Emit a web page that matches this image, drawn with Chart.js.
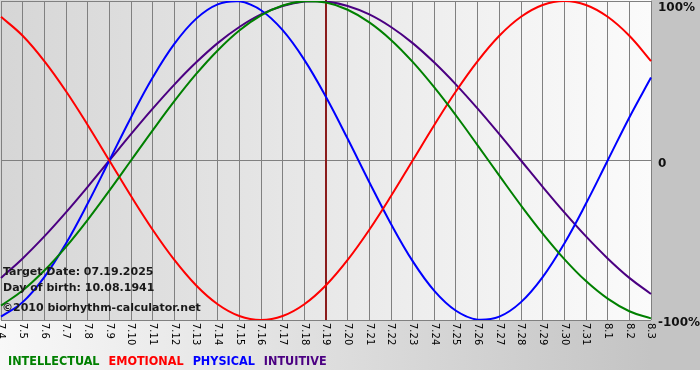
<!DOCTYPE html>
<html lang="en">
<head>
    <meta charset="UTF-8">
    <title>Biorhythm</title>
    <script src="https://cdn.jsdelivr.net/npm/chart.js"></script>
    <style>
        html, body { margin: 0; padding: 0; background: #fff; }
        canvas { display: block; }
    </style>
</head>
<body>

<canvas id="bioChart" width="700" height="380"></canvas>

<script>
    // days shown on the x axis
    const days = ['7.4', '7.5', '7.6', '7.7', '7.8', '7.9', '7.10', '7.11', '7.12', '7.13', '7.14',
        '7.15', '7.16', '7.17', '7.18', '7.19', '7.20', '7.21', '7.22', '7.23', '7.24', '7.25',
        '7.26', '7.27', '7.28', '7.29', '7.30', '7.31', '8.1', '8.2', '8.3'];

    // cycle values (-1 .. 1), one per day
    const intellectual = [-0.910, -0.815, -0.690, -0.541, -0.372, -0.189, 0, 0.189, 0.372, 0.541, 0.690,
        0.815, 0.910, 0.972, 0.999, 0.990, 0.945, 0.866, 0.756, 0.618, 0.458, 0.282,
        0.095, -0.095, -0.282, -0.458, -0.618, -0.756, -0.866, -0.945, -0.990];
    const emotional = [0.901, 0.782, 0.623, 0.434, 0.223, 0, -0.223, -0.434, -0.623, -0.782, -0.901,
        -0.975, -1.000, -0.975, -0.901, -0.782, -0.623, -0.434, -0.223, 0, 0.223, 0.434,
        0.623, 0.782, 0.901, 0.975, 1.000, 0.975, 0.901, 0.782, 0.623];
    const physical = [-0.979, -0.888, -0.731, -0.520, -0.270, 0, 0.270, 0.520, 0.731, 0.888, 0.979,
        0.998, 0.942, 0.817, 0.631, 0.398, 0.136, -0.136, -0.398, -0.631, -0.817, -0.942,
        -0.998, -0.979, -0.888, -0.731, -0.520, -0.270, 0, 0.270, 0.520];
    const intuitive = [-0.736, -0.614, -0.476, -0.325, -0.165, 0, 0.165, 0.325, 0.476, 0.614, 0.736,
        0.837, 0.916, 0.969, 0.997, 0.997, 0.969, 0.916, 0.837, 0.736, 0.614, 0.476,
        0.325, 0.165, 0, -0.165, -0.325, -0.476, -0.614, -0.736, -0.837];

    const yTickValues = [1, 0, -1];
    const yTickLabels = ['100%', '0', '-100%'];
    const targetDay = '7.19';
    const infoLines = ['Target Date: 07.19.2025', 'Day of birth: 10.08.1941', '\u00A92010 biorhythm-calculator.net'];

    const serie = (label, data, color) => ({
        label: label,
        data: data,
        borderColor: color,
        borderWidth: 2,
        pointRadius: 0,
        tension: 0.4,
        fill: false
    });

    // backgrounds, target line, rotated day labels, right labels, info text, legend
    const decor = {
        id: 'decor',
        beforeDraw(chart) {
            const ctx = chart.ctx;
            const a = chart.chartArea;
            ctx.save();
            ctx.fillStyle = '#ffffff';
            ctx.fillRect(0, 0, chart.width, chart.height);
            // bottom band
            let g = ctx.createLinearGradient(0, 0, a.right, 0);
            g.addColorStop(0, '#f8f8f8');
            g.addColorStop(1, '#c4c4c4');
            ctx.fillStyle = g;
            ctx.fillRect(0, a.bottom, a.right, 50);
            // right column
            ctx.fillStyle = '#c4c4c4';
            ctx.fillRect(a.right, 0, chart.width - a.right, a.bottom + 50);
            // plot area
            g = ctx.createLinearGradient(a.left, 0, a.right, 0);
            g.addColorStop(0, '#d6d6d6');
            g.addColorStop(1, '#fbfbfb');
            ctx.fillStyle = g;
            ctx.fillRect(0, a.top - 1, a.right, a.bottom - a.top + 1);
            ctx.restore();
        },
        beforeDatasetsDraw(chart) {
            const ctx = chart.ctx;
            const a = chart.chartArea;
            const x = chart.scales.x.getPixelForValue(days.indexOf(targetDay));
            ctx.save();
            ctx.strokeStyle = '#8a1c1c';
            ctx.lineWidth = 2;
            ctx.beginPath();
            ctx.moveTo(x, a.top - 1);
            ctx.lineTo(x, a.bottom);
            ctx.stroke();
            ctx.restore();
        },
        afterDraw(chart) {
            const ctx = chart.ctx;
            const a = chart.chartArea;
            const xs = chart.scales.x;
            const ys = chart.scales.y;
            ctx.save();

            // day labels, rotated to read downwards
            ctx.fillStyle = '#000';
            ctx.font = '10px "DejaVu Sans"';
            ctx.textAlign = 'left';
            ctx.textBaseline = 'middle';
            days.forEach((d, i) => {
                ctx.save();
                ctx.translate(xs.getPixelForValue(i), a.bottom + 3);
                ctx.rotate(Math.PI / 2);
                ctx.fillText(d, 0, 0);
                ctx.restore();
            });

            // right side labels
            ctx.font = 'bold 12px "DejaVu Sans"';
            ctx.fillStyle = '#111';
            yTickValues.forEach((v, i) => {
                let y = ys.getPixelForValue(v);
                if (v === 1) y += 6;
                if (v === 0) y += 2;
                if (v === -1) y += 2;
                ctx.fillText(yTickLabels[i], a.right + 7, y + 1);
            });

            // info text
            ctx.font = 'bold 11px "DejaVu Sans"';
            ctx.fillStyle = '#1a1a1a';
            ctx.fillText(infoLines[0], 3, 272);
            ctx.fillText(infoLines[1], 3, 288);
            ctx.fillText(infoLines[2], 2, 308);

            // legend
            ctx.font = 'bold 12.5px "DejaVu Sans Condensed", "DejaVu Sans"';
            let lx = 8;
            chart.data.datasets.forEach(ds => {
                ctx.fillStyle = ds.borderColor;
                ctx.fillText(ds.label, lx, 362);
                lx += ctx.measureText(ds.label).width + 9;
            });
            ctx.restore();
        }
    };

    new Chart(document.getElementById('bioChart'), {
        type: 'line',
        data: {
            labels: days,
            datasets: [
                serie('INTELLECTUAL', intellectual, '#008000'),
                serie('EMOTIONAL', emotional, '#ff0000'),
                serie('PHYSICAL', physical, '#0000ff'),
                serie('INTUITIVE', intuitive, '#4b0082')
            ]
        },
        options: {
            responsive: false,
            animation: false,
            layout: { padding: { left: 1, top: 1, right: 0, bottom: 0 } },
            plugins: {
                legend: { display: false },
                tooltip: { enabled: false }
            },
            scales: {
                x: {
                    offset: false,
                    border: { display: false },
                    grid: { color: '#808080', lineWidth: 1, drawTicks: false },
                    ticks: { display: false },
                    afterFit: s => { s.height = 60; }
                },
                y: {
                    position: 'right',
                    min: -1,
                    max: 1,
                    border: { display: false },
                    grid: { color: '#808080', lineWidth: 1, drawTicks: false },
                    ticks: { display: false, stepSize: 1 },
                    afterFit: s => { s.width = 49; }
                }
            }
        },
        plugins: [decor]
    });
</script>

</body>
</html>
